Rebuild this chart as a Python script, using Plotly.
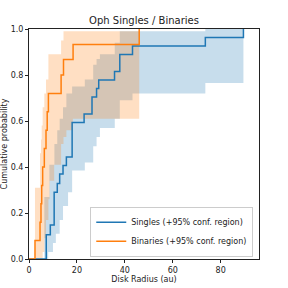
import plotly.graph_objects as go

# Singles (Kaplan-Meier style CDF)
singles_x = [0, 7.2, 8.9, 10.5, 11.8, 12.8, 14.2, 15.6, 18.0, 23.0, 26.3, 28.2, 29.1, 35.7, 37.9, 43.2, 73.6, 89.5]
singles_y = [0, 0.105, 0.148, 0.290, 0.328, 0.370, 0.407, 0.444, 0.593, 0.630, 0.704, 0.741, 0.778, 0.815, 0.889, 0.926, 0.963, 1.0]

# Singles 95% confidence band
singles_band_x = [6.4, 8.0, 8.5, 10.0, 10.6, 11.2, 11.8, 12.8, 14.2, 15.6, 16.3, 18.0, 23.3, 26.8, 28.2, 29.6, 35.8, 37.9, 43.2, 73.6, 89.5]
singles_band_lo = [0, 0.03, 0.03, 0.07, 0.07, 0.11, 0.11, 0.17, 0.23, 0.23, 0.29, 0.385, 0.42, 0.49, 0.53, 0.57, 0.61, 0.69, 0.72, 0.765, 0.765]
singles_band_hi = [0.27, 0.27, 0.41, 0.41, 0.50, 0.50, 0.56, 0.61, 0.66, 0.72, 0.72, 0.75, 0.78, 0.845, 0.87, 0.89, 0.94, 0.99, 0.99, 1.0, 1.0]

# Binaries
binaries_x = [0, 2.5, 4.6, 5.0, 5.3, 5.7, 6.4, 7.1, 7.6, 8.1, 13.4, 14.4, 18.4, 46.0]
binaries_y = [0, 0.08, 0.16, 0.24, 0.32, 0.40, 0.48, 0.56, 0.64, 0.72, 0.80, 0.867, 0.933, 1.0]

binaries_band_x = [2.5, 4.6, 5.0, 5.3, 5.7, 6.4, 7.1, 8.1, 8.6, 10.5, 13.4, 14.4, 15.6, 18.3, 46.0]
binaries_band_lo = [0, 0, 0, 0, 0.03, 0.09, 0.17, 0.26, 0.34, 0.41, 0.50, 0.53, 0.56, 0.61, 0.61]
binaries_band_hi = [0.31, 0.46, 0.52, 0.58, 0.66, 0.72, 0.78, 0.89, 0.89, 0.89, 0.95, 0.99, 0.99, 0.99, 0.99]

BLUE = "#1f77b4"
ORANGE = "#ff7f0e"

fig = go.Figure()


def add_band(x, lo, hi, rgba):
    fig.add_trace(go.Scatter(x=x, y=lo, mode="lines", line=dict(width=0, shape="hv"),
                             showlegend=False, hoverinfo="skip"))
    fig.add_trace(go.Scatter(x=x, y=hi, mode="lines", line=dict(width=0, shape="hv"),
                             fill="tonexty", fillcolor=rgba, showlegend=False, hoverinfo="skip"))


add_band(singles_band_x, singles_band_lo, singles_band_hi, "rgba(31,119,180,0.25)")
add_band(binaries_band_x, binaries_band_lo, binaries_band_hi, "rgba(255,127,14,0.25)")

fig.add_trace(go.Scatter(x=singles_x, y=singles_y, mode="lines",
                         line=dict(color=BLUE, width=1.5, shape="hv"),
                         name="Singles (+95% conf. region)"))
fig.add_trace(go.Scatter(x=binaries_x, y=binaries_y, mode="lines",
                         line=dict(color=ORANGE, width=1.5, shape="hv"),
                         name="Binaries (+95% conf. region)"))

axis_common = dict(showline=True, mirror=True, linecolor="#222", linewidth=1,
                   ticks="outside", ticklen=3, tickwidth=1, tickcolor="#222",
                   showgrid=False, zeroline=False, automargin=False,
                   tickfont=dict(size=8, color="#222"))

fig.update_layout(
    width=288, height=288,
    margin=dict(l=29, r=29, t=29, b=29, autoexpand=False),
    paper_bgcolor="white", plot_bgcolor="white",
    font=dict(family="DejaVu Sans", color="#222"),
    title=dict(text="Oph Singles / Binaries", x=0.5, xanchor="center",
               y=1 - 20 / 288, yanchor="middle", yref="container", automargin=False,
               font=dict(size=10, color="#222")),
    xaxis=dict(range=[0, 96], tickvals=[0, 20, 40, 60, 80],
               title=dict(text="Disk Radius (au)", font=dict(size=8), standoff=2),
               **axis_common),
    yaxis=dict(range=[0, 1], tickvals=[0, 0.2, 0.4, 0.6, 0.8, 1.0], tickformat=".1f",
               title=dict(text="Cumulative probability", font=dict(size=8), standoff=2),
               **axis_common),
    legend=dict(x=0.975, y=0.01, xanchor="right", yanchor="bottom", traceorder="normal",
                bgcolor="rgba(255,255,255,0.85)", bordercolor="#ccc", borderwidth=1,
                font=dict(size=8, color="#222"), tracegroupgap=0,
                itemwidth=30),
)

fig.write_html("out.html", config={"displayModeBar": False},
               post_script="document.body.style.margin='0';document.body.style.padding='0';")
